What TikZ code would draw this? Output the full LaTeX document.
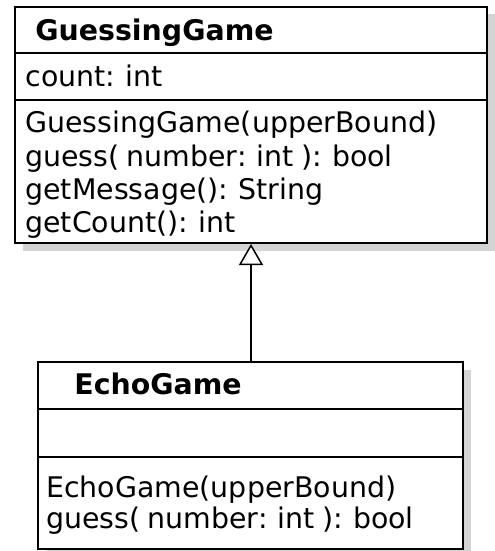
\documentclass[tikz,border=0pt]{standalone}
\usepackage{fontspec}
\setmainfont[WordSpace=0.8]{DejaVu Sans}
\usetikzlibrary{arrows.meta,shadows}
\definecolor{shadowgray}{rgb}{0.83,0.83,0.83}

\tikzset{
classbox/.style={draw, line width=1pt, fill=white, inner sep=0pt,
  drop shadow={shadow xshift=3.75pt, shadow yshift=-3.75pt, fill=shadowgray, opacity=1}},
member/.style={anchor=base west, inner sep=0pt, font=\fontsize{14.2}{16}\selectfont},
classname/.style={member, font=\fontsize{14.2}{16}\selectfont\bfseries},
divider/.style={line width=0.9pt}
}

\begin{document}
\begin{tikzpicture}[x=0.5pt,y=-0.5pt]
\useasboundingbox (0,0) rectangle (494,551);

% super class
\node[classbox, minimum width=236pt, minimum height=118pt] (guessing) at (251,125) {};
\draw[divider] (guessing.west |- 0,53) -- (guessing.east |- 0,53);
\draw[divider] (guessing.west |- 0,100) -- (guessing.east |- 0,100);
\node[classname] (guessing-name) at (35,41) {GuessingGame};
\node[member] (guessing-count) at (25,87) {count: int};
\foreach \txt [count=\i] in {{GuessingGame(upperBound)},{guess( number: int ): bool},{getMessage(): String},{getCount(): int}}
{
\node[member] (guessing-op\i) at (25,133+33.3*\i-33.3) {\txt};
}

% sub class
\node[classbox, minimum width=212.5pt, minimum height=93.5pt] (echo) at (250.5,455.5) {};
\draw[divider] (echo.west |- 0,409) -- (echo.east |- 0,409);
\draw[divider] (echo.west |- 0,457) -- (echo.east |- 0,457);
\node[classname] (echo-name) at (74,394) {EchoGame};
\foreach \txt [count=\i] in {{EchoGame(upperBound)},{guess( number: int ): bool}}
{
\node[member] (echo-op\i) at (46,497+31*\i-31) {\txt};
}

% generalisation
\draw[line width=0.75pt, -{Triangle[length=10.5pt, width=12pt, fill=white]}]
  (echo.north -| 251,0) -- (guessing.south -| 251,0);
\end{tikzpicture}
\end{document}
